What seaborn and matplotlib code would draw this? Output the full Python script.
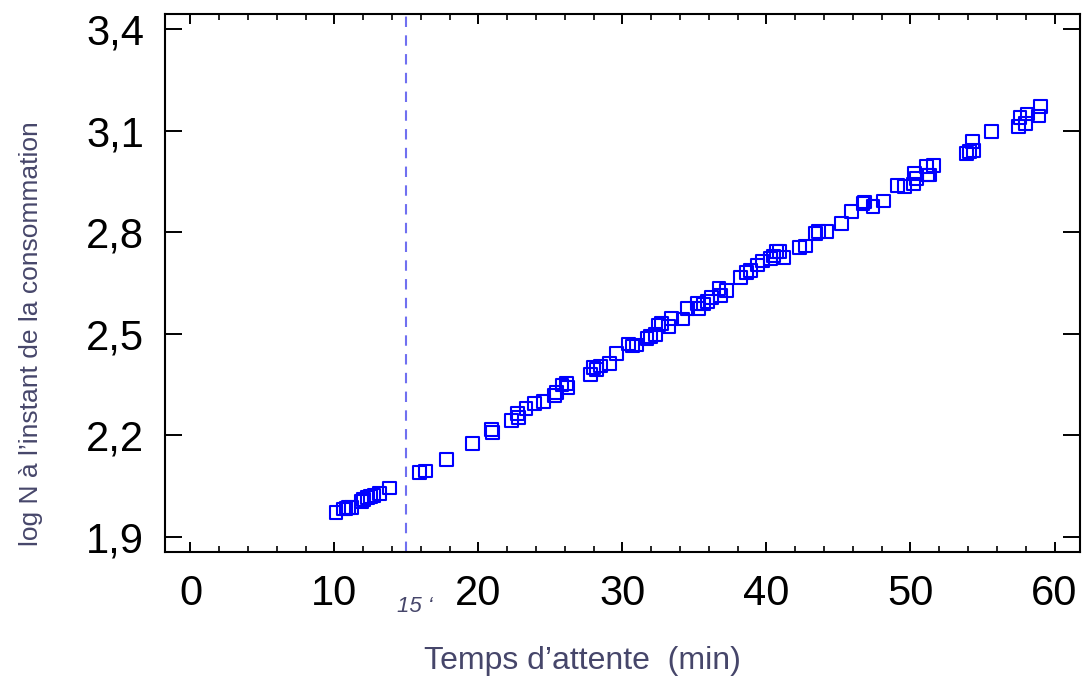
import matplotlib
matplotlib.use("Agg")
import matplotlib.pyplot as plt
import seaborn as sns
import pandas as pd
from matplotlib.ticker import MultipleLocator, FixedLocator, FuncFormatter

# Data
temps = [10.1, 10.6, 10.8, 11.0, 11.2, 11.9, 12.0, 12.3, 12.5, 12.75, 13.1, 13.8,
         15.9, 16.3, 17.8, 19.6, 20.9, 21.0, 22.3, 22.7, 22.8, 23.3, 23.9, 24.5,
         25.3, 25.4, 25.8, 26.1, 26.2, 27.8, 28.0, 28.2, 28.5, 29.1, 29.6,
         30.4, 30.7, 31.0, 31.7, 31.95, 32.3, 32.5, 32.7, 33.2, 33.4, 34.2, 34.5,
         35.2, 35.3, 35.6, 35.9, 36.2, 36.7, 36.8, 37.2, 38.2, 38.6, 38.9, 39.4,
         39.7, 40.3, 40.5, 40.7, 40.9, 41.2, 42.3, 42.7, 43.4, 43.6, 44.2, 45.2,
         45.9, 46.7, 46.8, 47.4, 48.1, 49.1, 49.6, 50.2, 50.3, 50.4, 51.2, 51.1,
         51.6, 51.3, 53.9, 54.1, 54.4, 54.3, 55.6, 57.5, 57.6, 58.0, 58.1, 58.9, 59.0]
log_n = [1.973, 1.983, 1.985, 1.987, 1.988, 2.004, 2.011, 2.016, 2.019, 2.023, 2.029, 2.045,
         2.091, 2.095, 2.130, 2.177, 2.218, 2.208, 2.243, 2.265, 2.253, 2.280, 2.295, 2.300,
         2.319, 2.326, 2.349, 2.354, 2.342, 2.381, 2.401, 2.395, 2.405, 2.413, 2.442,
         2.470, 2.464, 2.467, 2.487, 2.491, 2.498, 2.526, 2.531, 2.521, 2.546, 2.544, 2.575,
         2.590, 2.575, 2.588, 2.595, 2.608, 2.634, 2.614, 2.627, 2.667, 2.681, 2.688, 2.703,
         2.715, 2.723, 2.730, 2.742, 2.742, 2.725, 2.755, 2.759, 2.797, 2.803, 2.801, 2.826,
         2.860, 2.885, 2.889, 2.877, 2.892, 2.939, 2.934, 2.942, 2.974, 2.959, 2.969, 2.993,
         2.998, 2.969, 3.033, 3.038, 3.040, 3.067, 3.097, 3.111, 3.138, 3.121, 3.149, 3.143, 3.170]

x_ticks = [0, 10, 20, 30, 40, 50, 60]
y_ticks = [1.9, 2.2, 2.5, 2.8, 3.1, 3.4]
seuil = 15
seuil_label = "15 \u2018"
x_label = "Temps d\u2019attente  (min)"
y_label = "log N \u00e0 l\u2019instant de la consommation"

df = pd.DataFrame({"temps": temps, "logn": log_n})

sns.set_style("white")
plt.rcParams["font.family"] = ["Liberation Sans", "DejaVu Sans"]

fig = plt.figure(figsize=(10.84, 6.84), dpi=100)
ax = fig.add_axes([0.1522, 0.193, 0.8441, 0.7865])

sns.scatterplot(data=df, x="temps", y="logn", ax=ax, marker="s", s=85,
                facecolors="none", edgecolor="#0000ff", linewidth=1.5, zorder=3)

ax.axvline(seuil, color="#7070f0", linestyle=(0, (5, 4)), linewidth=1.5, zorder=2)

ax.set_xlim(-1.77, 61.77)
ax.set_ylim(1.856, 3.444)
ax.xaxis.set_major_locator(FixedLocator(x_ticks))
ax.xaxis.set_minor_locator(MultipleLocator(2))
ax.yaxis.set_major_locator(FixedLocator(y_ticks))
ax.yaxis.set_major_formatter(FuncFormatter(lambda v, p: f"{v:.1f}".replace(".", ",")))

ax.tick_params(axis="x", which="major", direction="in", length=7.5, width=1.4,
               top=True, bottom=True, labelsize=30, pad=16, colors="black")
ax.tick_params(axis="x", which="minor", direction="in", length=4, width=1.4,
               top=True, bottom=True)
ax.tick_params(axis="y", which="major", direction="in", length=12, width=1.4,
               left=True, right=True, labelsize=30, pad=15, colors="black")

for sp in ax.spines.values():
    sp.set_visible(True)
    sp.set_color("black")
    sp.set_linewidth(1.5)

ax.set_xlabel("")
ax.set_ylabel("")
label_color = "#46466a"
fig.text(582 / 1084, 1 - 661 / 684, x_label, ha="center", va="center",
         fontsize=23, color=label_color)
fig.text(31 / 1084, 1 - 334 / 684, y_label, ha="center", va="center",
         rotation=90, fontsize=19, color=label_color)
fig.text(415 / 1084, 1 - 606 / 684, seuil_label, ha="center", va="center",
         fontsize=16, style="italic", color=label_color)

fig.savefig("out.png", dpi=100)
